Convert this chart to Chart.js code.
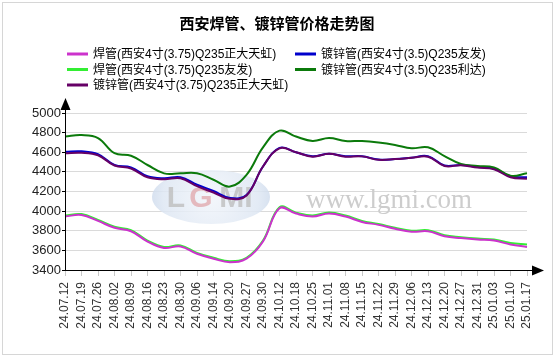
<!DOCTYPE html>
<html><head><meta charset="utf-8">
<script src="https://cdn.jsdelivr.net/npm/chart.js@4"></script>
<style>html,body{margin:0;padding:0;background:#fff}canvas{display:block}</style>
</head><body>
<canvas id="c" width="555" height="358"></canvas>
<script>
const TITLE = '西安焊管、镀锌管价格走势图';
const categories = ['24.07.12','24.07.19','24.07.26','24.08.02','24.08.09','24.08.16','24.08.23','24.08.30','24.09.06','24.09.14','24.09.20','24.09.27','24.09.30','24.10.12','24.10.18','24.10.25','24.11.01','24.11.08','24.11.15','24.11.22','24.11.29','24.12.06','24.12.13','24.12.20','24.12.27','24.12.31','25.01.03','25.01.10','25.01.17'];
const seriesNames = ['焊管(西安4寸(3.75)Q235正大天虹)','镀锌管(西安4寸(3.5)Q235友发)','焊管(西安4寸(3.75)Q235友发)','镀锌管(西安4寸(3.5)Q235利达)','镀锌管(西安4寸(3.75)Q235正大天虹)'];
const hanZhengda = [3945,3960,3900,3830,3795,3690,3625,3640,3565,3515,3480,3515,3690,4030,3975,3945,3975,3945,3890,3860,3820,3790,3795,3745,3725,3710,3700,3660,3635];
const duxinYoufa = [4605,4610,4580,4470,4445,4355,4335,4345,4270,4205,4135,4165,4455,4645,4600,4560,4585,4560,4560,4525,4530,4545,4560,4465,4470,4450,4435,4355,4345];
const hanYoufa = [3955,3970,3910,3840,3805,3700,3635,3650,3575,3525,3490,3525,3700,4040,3985,3955,3985,3955,3900,3870,3830,3800,3805,3755,3735,3720,3710,3675,3660];
const duxinLida = [4760,4775,4745,4590,4565,4470,4385,4385,4385,4320,4250,4370,4650,4820,4760,4715,4745,4715,4715,4700,4675,4640,4650,4560,4480,4460,4445,4360,4385];
const duxinZhengda = [4590,4595,4570,4465,4435,4345,4325,4335,4255,4190,4125,4160,4455,4640,4600,4555,4585,4555,4558,4523,4530,4543,4555,4460,4468,4444,4427,4345,4330];
const yMin = 3400, yMax = 5000, yStep = 200;

const colors = ['#cc33cc','#0000cc','#33ee33','#0b7a0b','#660066'];
const seriesData = [hanZhengda, duxinYoufa, hanYoufa, duxinLida, duxinZhengda];
const drawOrder = [0, 3, 1, 2, 0];

const LATIN = '"Liberation Sans", Arial, "Noto Sans CJK SC", sans-serif';

const deco = {
  id: 'deco',
  beforeDraw(chart) {
    const ctx = chart.ctx;
    ctx.save();
    ctx.fillStyle = '#fff';
    ctx.fillRect(0, 0, chart.width, chart.height);
    ctx.strokeStyle = '#d6d6d6';
    ctx.lineWidth = 1;
    ctx.strokeRect(2.5, 2.5, 550, 352);
    ctx.restore();
  },
  beforeDatasetsDraw(chart) {
    const ctx = chart.ctx;
    ctx.save();
    const g = ctx.createRadialGradient(211, 197, 5, 211, 197, 62);
    g.addColorStop(0, 'rgba(240,244,250,0.85)');
    g.addColorStop(0.75, 'rgba(222,231,243,0.85)');
    g.addColorStop(1, 'rgba(205,218,236,0.85)');
    ctx.beginPath();
    ctx.ellipse(211, 197, 59, 27, 0, 0, Math.PI * 2);
    ctx.fillStyle = g;
    ctx.fill();
    ctx.textAlign = 'center';
    ctx.textBaseline = 'middle';
    ctx.font = 'bold 30px "Liberation Sans"';
    ctx.fillStyle = 'rgba(190,190,190,0.8)';
    ctx.fillText('L', 176, 199);
    ctx.fillStyle = 'rgba(225,170,175,0.8)';
    ctx.fillText('G', 201, 199);
    ctx.fillStyle = 'rgba(190,190,190,0.8)';
    ctx.fillText('MI', 236, 199);
    ctx.font = '27px "Liberation Serif"';
    ctx.fillStyle = '#cdcdcd';
    ctx.fillText('www.lgmi.com', 389, 201);
    ctx.restore();
  },
  afterDraw(chart) {
    const ctx = chart.ctx;
    const a = chart.chartArea;
    ctx.save();
    ctx.fillStyle = '#000';
    ctx.textAlign = 'center';
    ctx.textBaseline = 'middle';
    ctx.font = 'bold 15px "Noto Sans CJK SC", sans-serif';
    ctx.fillText(TITLE, 277, 23);
    const pos = [[67,54],[295,54],[67,69.5],[295,69.5],[67,85]];
    ctx.font = '12px ' + LATIN;
    ctx.textAlign = 'left';
    seriesNames.forEach((n, i) => {
      const [x, y] = pos[i];
      ctx.strokeStyle = colors[i];
      ctx.lineWidth = 3;
      ctx.beginPath(); ctx.moveTo(x, y); ctx.lineTo(x + 21, y); ctx.stroke();
      ctx.fillStyle = '#000';
      ctx.fillText(n, x + 26, y + 1);
    });
    ctx.strokeStyle = '#000';
    ctx.fillStyle = '#000';
    ctx.lineWidth = 1;
    ctx.beginPath();
    ctx.moveTo(a.left + 0.5, a.bottom); ctx.lineTo(a.left + 0.5, 105);
    ctx.moveTo(a.left, a.bottom + 0.5); ctx.lineTo(535, a.bottom + 0.5);
    ctx.stroke();
    ctx.beginPath();
    ctx.moveTo(a.left + 0.5, 98); ctx.lineTo(a.left - 4.5, 110); ctx.lineTo(a.left + 5.5, 110); ctx.closePath(); ctx.fill();
    ctx.beginPath();
    ctx.moveTo(544, a.bottom + 0.5); ctx.lineTo(532, a.bottom - 4.5); ctx.lineTo(532, a.bottom + 5.5); ctx.closePath(); ctx.fill();
    ctx.restore();
  }
};

new Chart(document.getElementById('c'), {
  type: 'line',
  data: {
    labels: categories,
    datasets: seriesNames.map((n, i) => ({
      label: n,
      data: seriesData[i],
      borderColor: colors[i],
      backgroundColor: colors[i],
      borderWidth: 2,
      pointRadius: 0,
      tension: 0.4,
      fill: false,
      order: drawOrder[i]
    }))
  },
  options: {
    responsive: false,
    animation: false,
    devicePixelRatio: 1,
    layout: { padding: { top: 113, right: 28, left: 0, bottom: 0 } },
    plugins: { legend: { display: false }, title: { display: false }, tooltip: { enabled: false } },
    scales: {
      x: {
        offset: false,
        grid: { drawOnChartArea: false, color: '#c8c8c8', tickLength: 6 },
        border: { color: '#000' },
        ticks: { minRotation: 90, maxRotation: 90, autoSkip: false, padding: 6, color: '#333', font: { family: LATIN, size: 12 } },
        afterFit(s) { s.height = 88; }
      },
      y: {
        min: yMin, max: yMax,
        grid: { color: '#dadada', tickColor: '#000', tickLength: 3 },
        border: { color: '#000' },
        ticks: { stepSize: yStep, padding: 1, color: '#222', font: { family: LATIN, size: 13 }, callback: v => String(v) },
        afterFit(s) { s.width = 65; }
      }
    }
  },
  plugins: [deco]
});
</script>
</body></html>
